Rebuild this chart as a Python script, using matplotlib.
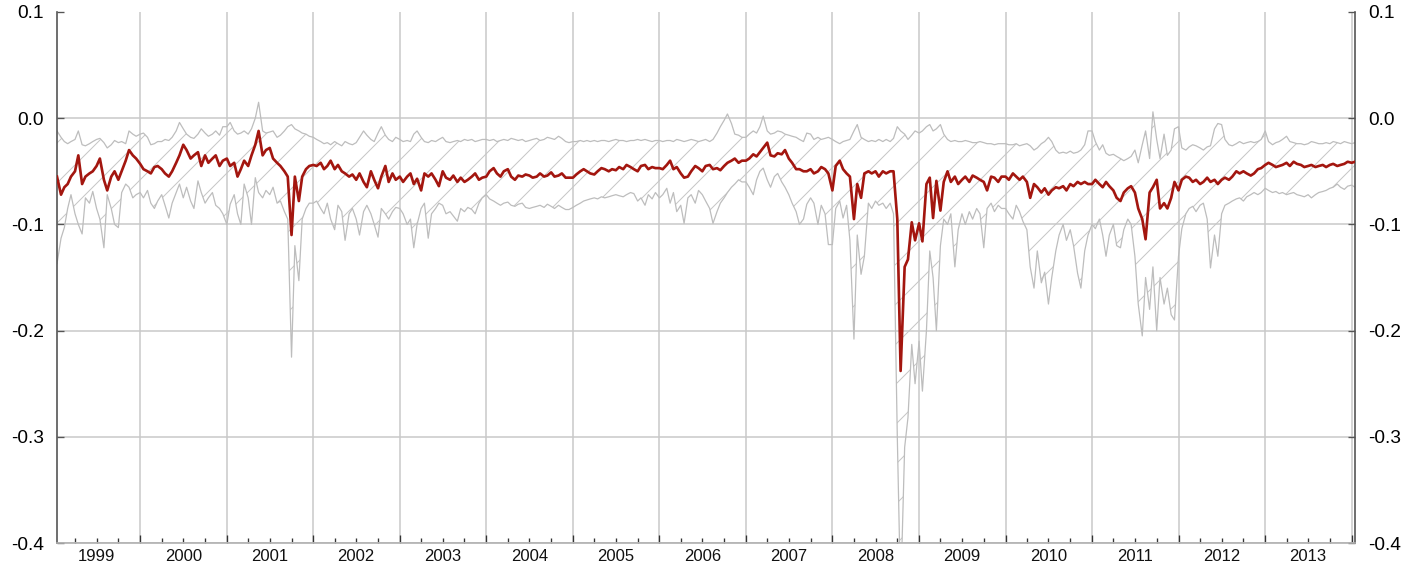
import matplotlib.pyplot as plt
import matplotlib.dates as mdates
from matplotlib.ticker import FuncFormatter
import numpy as np
import pandas as pd

plt.rcParams['font.family'] = ['Liberation Sans', 'DejaVu Sans']
plt.rcParams['hatch.linewidth'] = 0.6

# semi-monthly readings, in thousandths (1999-01-15 .. 2014-01-15)
median = [
    -55, -72, -65, -62, -55, -50, -35, -62, -55, -52, -50, -45, -38, -58, -68, -55, -50, -58, -50, -40, -30, -35, -38,  # 1999
    -43, -48, -50, -52, -46, -45, -48, -52, -55, -50, -42, -35, -25, -30, -38, -35, -32, -45, -35, -42, -38, -35, -45, -40,  # 2000
    -38, -45, -42, -55, -48, -40, -45, -35, -25, -12, -35, -30, -28, -38, -42, -45, -50, -55, -110, -55, -78, -55, -48, -45,  # 2001
    -44, -45, -42, -48, -45, -40, -48, -44, -50, -52, -55, -53, -58, -52, -60, -65, -50, -58, -66, -55, -45, -60, -52, -58,  # 2002
    -55, -60, -55, -52, -62, -57, -68, -52, -55, -52, -58, -64, -50, -56, -58, -54, -60, -56, -60, -58, -55, -52, -58, -56,  # 2003
    -55, -50, -47, -52, -55, -50, -48, -55, -58, -54, -55, -53, -54, -56, -55, -52, -55, -54, -51, -55, -54, -52, -56, -56,  # 2004
    -56, -53, -50, -48, -50, -52, -53, -50, -47, -48, -50, -48, -49, -46, -48, -44, -46, -48, -50, -45, -44, -48, -46, -47,  # 2005
    -47, -48, -44, -40, -48, -46, -52, -56, -55, -50, -45, -47, -50, -45, -44, -48, -47, -49, -45, -42, -40, -38, -42, -40,  # 2006
    -40, -38, -34, -36, -32, -28, -23, -35, -36, -33, -34, -30, -38, -42, -48, -48, -50, -50, -48, -52, -50, -46, -48, -52,  # 2007
    -68, -45, -40, -48, -52, -55, -95, -62, -75, -52, -50, -52, -50, -55, -50, -52, -50, -50, -95, -238, -140, -133, -98, -115,  # 2008
    -99, -116, -62, -56, -94, -59, -87, -60, -50, -60, -55, -62, -58, -55, -60, -54, -56, -58, -60, -68, -55, -56, -60, -55,  # 2009
    -55, -58, -52, -55, -58, -55, -60, -75, -62, -65, -70, -66, -72, -68, -65, -66, -64, -68, -62, -64, -60, -62, -60, -62,  # 2010
    -62, -58, -62, -65, -60, -64, -68, -75, -78, -70, -66, -64, -70, -85, -95, -114, -70, -65, -58, -85, -80, -85, -75, -60,  # 2011
    -68, -58, -55, -56, -60, -58, -62, -60, -56, -60, -58, -62, -58, -56, -58, -55, -50, -52, -50, -52, -54, -52, -48, -47,  # 2012
    -44, -42, -44, -46, -45, -44, -42, -45, -41, -43, -44, -46, -45, -44, -46, -45, -44, -46, -44, -43, -45, -44, -43, -41,  # 2013
    -42, -41,  # 2014
]

upper = [
    -12, -18, -22, -24, -22, -20, -12, -25, -26, -24, -22, -20, -19, -23, -28, -25, -21, -23, -22, -24, -12, -15, -17,
    -15, -14, -18, -25, -24, -22, -22, -20, -21, -18, -12, -4, -10, -15, -18, -19, -15, -10, -14, -17, -15, -12, -16, -8,
    -8, -4, -12, -15, -14, -12, -15, -10, 0, 15, -12, -14, -13, -12, -18, -16, -12, -8, -6, -10, -12, -14, -15, -17,
    -18, -20, -22, -24, -23, -25, -22, -24, -26, -22, -24, -25, -23, -18, -12, -16, -20, -22, -14, -8, -16, -20, -22, -18,
    -20, -22, -21, -22, -15, -12, -18, -22, -23, -21, -22, -20, -18, -22, -23, -22, -21, -22, -20, -21, -20, -22, -21, -20,
    -20, -21, -20, -22, -21, -20, -21, -19, -20, -21, -20, -22, -21, -20, -19, -21, -20, -18, -19, -20, -17, -19, -22, -23,
    -22, -22, -21, -22, -21, -22, -21, -22, -21, -21, -22, -21, -20, -21, -21, -22, -21, -21, -20, -21, -20, -21, -22, -21,
    -21, -22, -21, -21, -22, -20, -21, -22, -21, -20, -21, -22, -21, -20, -22, -20, -14, -8, -2, 4, -5, -15, -16, -18,
    -18, -15, -12, -14, -8, 2, -12, -15, -14, -12, -13, -15, -16, -17, -18, -20, -22, -14, -15, -20, -18, -20, -19, -18,
    -20, -22, -24, -22, -21, -20, -12, -6, -18, -20, -22, -21, -22, -20, -22, -20, -22, -19, -8, -12, -15, -20, -16, -12,
    -14, -12, -8, -6, -12, -10, -6, -15, -20, -22, -21, -22, -22, -21, -22, -23, -23, -22, -23, -24, -24, -25, -24, -24,
    -24, -25, -25, -24, -26, -25, -24, -26, -30, -28, -24, -22, -18, -22, -30, -33, -32, -33, -31, -33, -32, -30, -25, -12,
    -12, -22, -30, -25, -33, -35, -34, -36, -38, -40, -38, -36, -30, -42, -25, -12, -38, 6, -20, -38, -15, -35, -30, -10,
    -8, -28, -30, -27, -25, -26, -28, -30, -27, -26, -10, -5, -6, -20, -25, -26, -24, -22, -24, -23, -22, -23, -22, -20,
    -12, -22, -25, -23, -22, -20, -17, -22, -23, -24, -24, -25, -24, -22, -23, -24, -24, -23, -24, -22, -23, -24, -22, -23,
    -24, -23,
]

lower = [
    -137, -113, -103, -85, -72, -90, -100, -109, -75, -80, -69, -85, -95, -122, -72, -85, -100, -103, -70, -62, -65, -75, -72,
    -70, -75, -68, -80, -85, -78, -72, -82, -94, -80, -70, -62, -75, -65, -78, -85, -59, -70, -80, -75, -70, -82, -85, -90,
    -100, -81, -72, -90, -100, -62, -75, -100, -56, -70, -75, -68, -72, -65, -80, -78, -88, -95, -225, -120, -153, -95, -85, -80,
    -80, -78, -85, -90, -80, -95, -105, -82, -88, -115, -90, -85, -95, -110, -88, -82, -90, -100, -112, -85, -90, -95, -88, -84,
    -85, -90, -100, -95, -122, -100, -85, -80, -113, -90, -85, -80, -82, -90, -88, -92, -97, -85, -88, -84, -86, -90, -80, -75,
    -72, -76, -78, -80, -82, -80, -79, -82, -83, -81, -80, -84, -85, -84, -83, -82, -84, -81, -83, -85, -82, -84, -86, -86,
    -84, -82, -80, -78, -77, -76, -75, -76, -74, -75, -74, -73, -72, -73, -74, -72, -70, -71, -78, -75, -82, -72, -76, -70,
    -75, -72, -66, -80, -70, -88, -82, -99, -75, -72, -80, -68, -72, -78, -85, -99, -88, -80, -75, -70, -65, -62, -58, -60,
    -60, -65, -72, -58, -50, -47, -58, -65, -55, -52, -60, -65, -72, -80, -88, -100, -95, -81, -75, -80, -100, -82, -90, -119,
    -119, -85, -78, -94, -82, -115, -208, -110, -147, -130, -80, -85, -78, -82, -80, -85, -80, -90, -300, -450, -310, -282, -213, -250,
    -210, -257, -200, -125, -150, -200, -120, -95, -100, -90, -140, -105, -90, -100, -88, -95, -85, -90, -122, -85, -80, -88, -82, -85,
    -85, -90, -95, -82, -88, -97, -105, -140, -160, -125, -155, -145, -175, -150, -125, -110, -100, -115, -105, -120, -146, -160, -125, -110,
    -100, -104, -95, -110, -130, -110, -100, -120, -122, -105, -95, -100, -130, -175, -205, -150, -180, -140, -200, -150, -175, -160, -185, -190,
    -130, -104, -90, -85, -83, -88, -82, -80, -95, -141, -110, -130, -90, -82, -80, -78, -76, -75, -78, -74, -72, -70, -72, -70,
    -66, -68, -70, -69, -71, -70, -72, -71, -70, -72, -73, -74, -72, -75, -72, -70, -69, -68, -66, -65, -62, -65, -67, -64,
    -63, -65,
]

years = list(range(1999, 2014))
y_ticks = [-0.4, -0.3, -0.2, -0.1, 0.0, 0.1]

dates = pd.date_range('1999-01-15', periods=len(median), freq='SMS')
med = np.array(median) / 1000.0
up = np.array(upper) / 1000.0
lo = np.array(lower) / 1000.0

DPI = 120
fig = plt.figure(figsize=(1418 / DPI, 568 / DPI), dpi=DPI)
ax = fig.add_axes([57 / 1418, 25 / 568, (1355 - 57) / 1418, (543 - 12) / 568])

grid_c = '#c8c8c8'
ax.fill_between(dates, lo, up, facecolor='none', edgecolor='#c6c6c6',
                hatch='/', linewidth=0, zorder=1)
ax.plot(dates, up, color='#bdbdbd', lw=0.75, zorder=2)
ax.plot(dates, lo, color='#bdbdbd', lw=0.75, zorder=2)
ax.plot(dates, med, color='#a3160f', lw=1.6, zorder=3)

ax.set_xlim(dates[0], dates[-1])
ax.set_ylim(-0.4, 0.1)
ax.set_yticks(y_ticks)
ax.yaxis.set_major_formatter(FuncFormatter(lambda v, p: f'{round(v, 1):.1f}'.replace('-0.0', '0.0')))

ax.xaxis.set_major_locator(mdates.YearLocator())
ax.xaxis.set_minor_locator(mdates.MonthLocator(bymonth=[4, 7, 10]))
ax.grid(axis='both', which='major', color=grid_c, lw=0.9, zorder=0)
ax.yaxis.get_gridlines()[-1].set_visible(False)
ax.set_axisbelow(True)

ax.tick_params(axis='y', direction='in', length=4, width=0.8, color='#555555',
               labelsize=11.5, pad=8, left=True, right=True, labelleft=True, labelright=True)
ax.tick_params(axis='x', which='major', direction='in', length=5, width=0.8,
               color='#333333', labelbottom=False)
ax.tick_params(axis='x', which='minor', direction='in', length=3, width=0.8,
               color='#333333')

for y in years:
    ax.text(pd.Timestamp(y, 7, 1), -0.011, str(y), transform=ax.get_xaxis_transform(),
            ha='center', va='top', fontsize=10, color='#111111')

ax.spines['top'].set_visible(False)
for side in ('left', 'right'):
    ax.spines[side].set_color('#555555')
    ax.spines[side].set_linewidth(1.0)
ax.spines['bottom'].set_color('#b0b0b0')
ax.spines['bottom'].set_linewidth(1.0)

fig.savefig('out.png', dpi=DPI)
